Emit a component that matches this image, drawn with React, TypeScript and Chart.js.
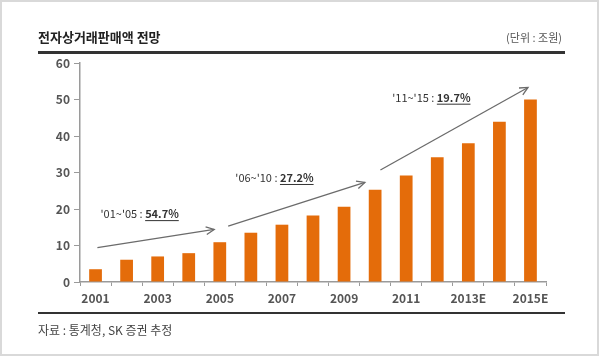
import React, { useEffect, useRef } from "react";
import { Chart, registerables } from "chart.js";

Chart.register(...registerables);

const categories = ["2001", "2002", "2003", "2004", "2005", "2006", "2007", "2008", "2009", "2010", "2011", "2012", "2013E", "2014E", "2015E"];
const sales = [3.5, 6.1, 7.0, 7.9, 10.9, 13.5, 15.7, 18.2, 20.6, 25.3, 29.2, 34.2, 38.0, 43.9, 50.0];
const yTicks = [0, 10, 20, 30, 40, 50, 60];
// growth arrows in (category index, value) units
const arrows = [
  [0.06, 9.4, 3.82, 14.4],
  [4.27, 15.3, 8.67, 27.3],
  [9.17, 30.7, 13.92, 53.3],
];
const growthPeriods = ["'01~'05 : ", "'06~'10 : ", "'11~'15 : "];
const growthRates = ["54.7%", "27.2%", "19.7%"];
const growthAnchors = [
  [0.16, 18.6],
  [4.5, 28.5],
  [9.55, 50.5],
];

const FONT = "'Noto Sans CJK KR', 'Noto Sans', sans-serif";

const annotationPlugin = {
  id: "growthArrows",
  afterDatasetsDraw(chart: any) {
    const ctx = chart.ctx;
    const xs = chart.scales.x;
    const ys = chart.scales.y;
    ctx.save();
    ctx.strokeStyle = "#6b6b6b";
    ctx.lineWidth = 1.3;
    arrows.forEach(([a, b, c, d]) => {
      const x0 = xs.getPixelForValue(a);
      const y0 = ys.getPixelForValue(b);
      const x1 = xs.getPixelForValue(c);
      const y1 = ys.getPixelForValue(d);
      ctx.beginPath();
      ctx.moveTo(x0, y0);
      ctx.lineTo(x1, y1);
      ctx.stroke();
      const ang = Math.atan2(y1 - y0, x1 - x0);
      const L = 9;
      const spread = 0.45;
      ctx.beginPath();
      ctx.moveTo(x1 - L * Math.cos(ang - spread), y1 - L * Math.sin(ang - spread));
      ctx.lineTo(x1, y1);
      ctx.lineTo(x1 - L * Math.cos(ang + spread), y1 - L * Math.sin(ang + spread));
      ctx.stroke();
    });
    ctx.textBaseline = "middle";
    ctx.textAlign = "left";
    growthAnchors.forEach(([a, b], i) => {
      const x = xs.getPixelForValue(a);
      const y = ys.getPixelForValue(b);
      ctx.fillStyle = "#333";
      ctx.font = `11px ${FONT}`;
      const p = growthPeriods[i];
      ctx.fillText(p, x, y);
      const w1 = ctx.measureText(p).width;
      ctx.font = `bold 11px ${FONT}`;
      ctx.fillText(growthRates[i], x + w1, y);
      const w2 = ctx.measureText(growthRates[i]).width;
      ctx.fillRect(x + w1, y + 6, w2, 1);
    });
    ctx.restore();
  },
};

export default function App() {
  const ref = useRef<HTMLCanvasElement>(null);
  useEffect(() => {
    document.body.style.margin = "0";
    const chart = new Chart(ref.current!, {
      type: "bar",
      data: {
        labels: categories,
        datasets: [
          {
            data: sales,
            backgroundColor: "#E46C0A",
            barPercentage: 0.41,
            categoryPercentage: 1,
          },
        ],
      },
      plugins: [annotationPlugin],
      options: {
        animation: false,
        responsive: false,
        maintainAspectRatio: false,
        layout: { padding: { left: 0, top: 63, right: 53, bottom: 44 } },
        plugins: { legend: { display: false }, tooltip: { enabled: false } },
        scales: {
          x: {
            afterFit: (s: any) => {
              s.height = 30;
            },
            grid: {
              offset: true,
              drawOnChartArea: false,
              drawTicks: true,
              tickLength: 4,
              color: "#9a9a9a",
            },
            border: { display: true, color: "#9a9a9a", width: 1.5 },
            ticks: {
              autoSkip: false,
              maxRotation: 0,
              padding: 5,
              color: "#555",
              font: { family: FONT, size: 12, weight: "bold" },
              callback: (_v: any, i: number) => (i % 2 === 0 ? categories[i] : ""),
            },
          },
          y: {
            min: yTicks[0],
            max: yTicks[yTicks.length - 1],
            afterFit: (s: any) => {
              s.width = 80;
            },
            afterBuildTicks: (s: any) => {
              s.ticks = yTicks.map((v) => ({ value: v }));
            },
            grid: {
              drawOnChartArea: false,
              drawTicks: true,
              tickLength: 6,
              color: "#9a9a9a",
            },
            border: { display: true, color: "#9a9a9a", width: 1.5 },
            ticks: {
              padding: 4,
              color: "#555",
              font: { family: FONT, size: 12, weight: "bold" },
            },
          },
        },
      },
    });
    return () => chart.destroy();
  }, []);

  return (
    <div
      style={{
        position: "absolute",
        left: 0,
        top: 0,
        width: 599,
        height: 356,
        boxSizing: "border-box",
        border: "2px solid #d9d9d9",
        background: "#fff",
        fontFamily: FONT,
        overflow: "hidden",
      }}
    >
      <canvas ref={ref} width={599} height={356} style={{ position: "absolute", left: -2, top: -2 }} />
      <div style={{ position: "absolute", left: 36, top: 25, fontSize: 13, fontWeight: "bold", color: "#222", lineHeight: "20px", whiteSpace: "nowrap" }}>
        전자상거래판매액 전망
      </div>
      <div style={{ position: "absolute", right: 35, top: 27, fontSize: 11, color: "#555", lineHeight: "16px", whiteSpace: "nowrap" }}>
        (단위 : 조원)
      </div>
      <div style={{ position: "absolute", left: 36, top: 49, width: 527, height: 2.5, background: "#333" }} />
      <div style={{ position: "absolute", left: 36, top: 310, width: 527, height: 1.5, background: "#333" }} />
      <div style={{ position: "absolute", left: 36, top: 319, fontSize: 12, color: "#444", lineHeight: "18px", whiteSpace: "nowrap" }}>
        자료 : 통계청, SK 증권 추정
      </div>
    </div>
  );
}
